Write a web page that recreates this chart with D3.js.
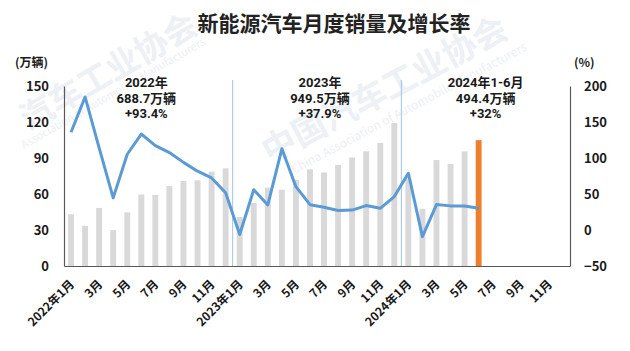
<!DOCTYPE html>
<html>
<head>
<meta charset="utf-8">
<script src="https://cdn.jsdelivr.net/npm/d3@7/dist/d3.min.js"></script>
<style>
  body { margin: 0; background: #fff; }
  svg text { font-family: 'Noto Sans CJK SC', 'Noto Sans', sans-serif; }
  svg text.note { font-family: Roboto, 'Noto Sans CJK SC', sans-serif; }
</style>
</head>
<body>
<div id="chart"></div>
<script>
// monthly NEV sales (万辆) and YoY growth (%), 2022-01 .. 2024-06
const years = [2022, 2023, 2024];
const sales = [43.1, 33.4, 48.4, 29.9, 44.7, 59.6, 59.3, 66.6, 70.8, 71.4, 78.6, 81.4,
  40.8, 52.5, 65.3, 63.6, 71.7, 80.6, 78.0, 84.3, 90.4, 95.6, 102.6, 119.1,
  72.9, 47.7, 88.3, 85.0, 95.5, 104.9];
const growth = [135.8, 184.8, 114.2, 44.6, 105.2, 133.3, 117.3, 107.5, 93.9, 81.7, 72.3, 51.8,
  -6.3, 55.9, 34.8, 112.8, 60.2, 35.2, 31.6, 27.0, 27.7, 33.9, 30.1, 46.4,
  78.8, -9.2, 35.3, 33.5, 33.3, 30.1];
const tickLabels = ['2022年1月', '3月', '5月', '7月', '9月', '11月',
  '2023年1月', '3月', '5月', '7月', '9月', '11月',
  '2024年1月', '3月', '5月', '7月', '9月', '11月'];
const yearNotes = [
  ['2022年', '688.7万辆', '+93.4%'],
  ['2023年', '949.5万辆', '+37.9%'],
  ['2024年1-6月', '494.4万辆', '+32%']
];
const leftTicks = [0, 30, 60, 90, 120, 150];
const rightTicks = [-50, 0, 50, 100, 150, 200];

const months = [];
years.forEach(y => d3.range(1, 13).forEach(m => months.push(`${y}-${m}`)));

const W = 630, H = 351;
const margin = { top: 86, right: 60, bottom: 85, left: 64 };
const width = W - margin.left - margin.right;
const height = H - margin.top - margin.bottom;

const svg = d3.select('#chart').append('svg')
  .attr('width', W).attr('height', H);

// faint watermark
const wm = svg.append('g').attr('fill', '#edf0f4');
wm.append('text').attr('text-anchor', 'end')
  .attr('transform', 'translate(200,32) rotate(-30)')
  .style('font-size', '33px').style('font-weight', 'bold').text('汽车工业协会');
wm.append('text').attr('text-anchor', 'end')
  .attr('transform', 'translate(206,44) rotate(-30)')
  .style('font-size', '11px').text('Association of Automobile Manufacturers');
wm.append('text').attr('transform', 'translate(270,164) rotate(-28)')
  .style('font-size', '34px').style('font-weight', 'bold').text('中国汽车工业协会');
wm.append('text').attr('transform', 'translate(294,174) rotate(-28)')
  .style('font-size', '12px').text('China Association of Automobile Manufacturers');

const g = svg.append('g').attr('transform', `translate(${margin.left},${margin.top})`);

const pin = 0.58;
const x = d3.scaleBand().domain(months).range([0, width])
  .paddingInner(pin).paddingOuter(pin / 2);
const yL = d3.scaleLinear().domain([0, 150]).range([height, 0]);
const yR = d3.scaleLinear().domain([-50, 200]).range([height, 0]);
const cx = m => x(m) + x.bandwidth() / 2;
const edge = m => x(m) - x.step() * pin / 2;

// year separators
g.selectAll('line.sep').data(['2023-1', '2024-1']).join('line')
  .attr('class', 'sep')
  .attr('x1', d => edge(d)).attr('x2', d => edge(d))
  .attr('y1', -6).attr('y2', height)
  .attr('stroke', '#9dc3e6').attr('stroke-width', 1);

// bars
g.selectAll('rect.bar').data(sales).join('rect')
  .attr('class', 'bar')
  .attr('x', (d, i) => x(months[i]))
  .attr('width', x.bandwidth())
  .attr('y', d => yL(d))
  .attr('height', d => height - yL(d))
  .attr('fill', (d, i) => i === sales.length - 1 ? '#ee7f2d' : '#d9d9d9');

// growth line
const line = d3.line()
  .x((d, i) => cx(months[i]))
  .y(d => yR(d));
g.append('path').datum(growth)
  .attr('fill', 'none')
  .attr('stroke', '#5b9bd5')
  .attr('stroke-width', 3)
  .attr('stroke-linejoin', 'round')
  .attr('d', line);

// axes
const axisColor = '#595959';
const leftAxis = g.append('g')
  .call(d3.axisLeft(yL).tickValues(leftTicks).tickSize(0).tickPadding(15));
const rightAxis = g.append('g').attr('transform', `translate(${width},0)`)
  .call(d3.axisRight(yR).tickValues(rightTicks).tickSize(0).tickPadding(14));
const xAxis = g.append('g').attr('transform', `translate(0,${height})`)
  .call(d3.axisBottom(x)
    .tickValues(months.filter((d, i) => i % 2 === 0))
    .tickFormat((d, i) => tickLabels[i])
    .tickSize(0));

[leftAxis, rightAxis, xAxis].forEach(a => {
  a.select('.domain').attr('stroke', axisColor).attr('stroke-width', 1.2);
  a.selectAll('text').attr('fill', '#1a1a1a')
    .style('font-size', '13px').style('font-weight', 'bold');
});
xAxis.selectAll('text')
  .style('font-size', '12px')
  .attr('x', 0).attr('y', 0).attr('dy', 0)
  .attr('text-anchor', 'end')
  .attr('transform', 'translate(4,19) rotate(-45)');

// units
g.append('text').attr('x', -16).attr('y', -19).attr('text-anchor', 'end')
  .attr('fill', '#1a1a1a').style('font-size', '12px').style('font-weight', 'bold')
  .text('(万辆)');
g.append('text').attr('x', width + 4).attr('y', -19)
  .attr('fill', '#1a1a1a').style('font-size', '12px').style('font-weight', 'bold')
  .text('(%)');

// year notes, one text per line
const noteX = [cx('2022-6') + 5, cx('2023-6') + 10, cx('2024-6') + 7];
yearNotes.forEach((lines, k) => {
  lines.forEach((s, j) => {
    g.append('text').attr('class', 'note')
      .attr('x', noteX[k]).attr('y', 1 + j * 15.5)
      .attr('text-anchor', 'middle').attr('fill', '#1a1a1a')
      .style('font-size', '13px').style('font-weight', 'bold')
      .text(s);
  });
});

// title
svg.append('text').attr('x', 334).attr('y', 31).attr('text-anchor', 'middle')
  .attr('fill', '#222').style('font-size', '21px').style('font-weight', 'bold')
  .text('新能源汽车月度销量及增长率');
</script>
</body>
</html>
